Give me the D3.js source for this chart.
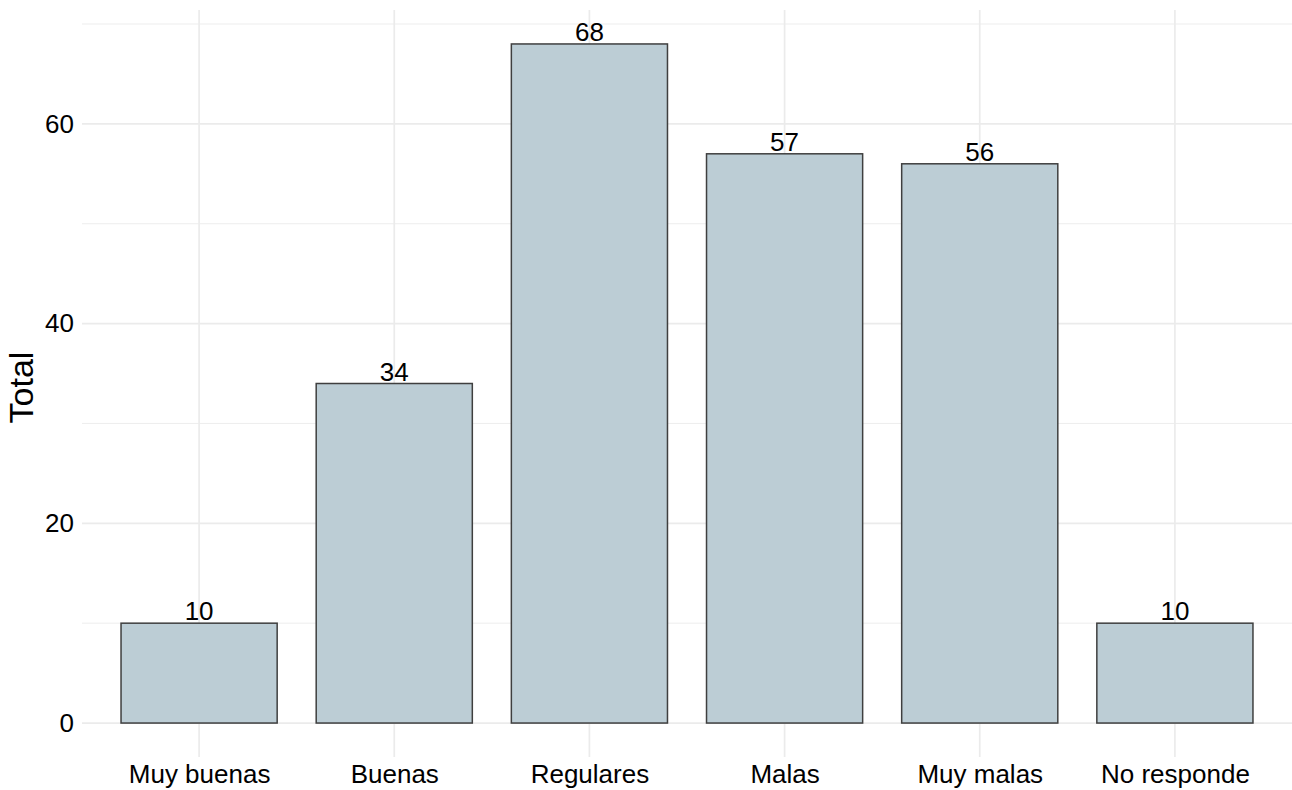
<!DOCTYPE html>
<html><head><meta charset="utf-8">
<script src="https://cdn.jsdelivr.net/npm/d3@7"></script>
<style>body{margin:0;background:#fff}text{font-family:Arial,"Liberation Sans",sans-serif}</style>
</head><body><svg id="c" width="1292" height="790"></svg>
<script>
const categories = ["Muy buenas","Buenas","Regulares","Malas","Muy malas","No responde"];
const values = [10,34,68,57,56,10];
const yTicks = [0,20,40,60];
const yMinor = [10,30,50,70];
const yTitle = "Total";

const svg = d3.select("#c");
const W=1292,H=790;
const m={l:82,r:0,t:10,b:33};
const x=d3.scalePoint().domain(categories).range([m.l,W-m.r]).padding(0.6);
const yMax=d3.max(values);
const y=d3.scaleLinear().domain([-yMax*0.05,yMax*1.05]).range([H-m.b,m.t]);
const bw=x.step()*0.8;

const g=svg.append("g");
g.selectAll(".ymin").data(yMinor).join("line").attr("x1",m.l).attr("x2",W-m.r)
 .attr("y1",d=>y(d)).attr("y2",d=>y(d)).attr("stroke","#ebebeb").attr("stroke-width",0.9);
g.selectAll(".ymaj").data(yTicks).join("line").attr("x1",m.l).attr("x2",W-m.r)
 .attr("y1",d=>y(d)).attr("y2",d=>y(d)).attr("stroke","#ebebeb").attr("stroke-width",1.7);
g.selectAll(".xmaj").data(categories).join("line").attr("x1",d=>x(d)).attr("x2",d=>x(d))
 .attr("y1",m.t).attr("y2",H-m.b).attr("stroke","#ebebeb").attr("stroke-width",1.7);

g.selectAll(".bar").data(values).join("rect")
 .attr("x",(d,i)=>x(categories[i])-bw/2).attr("width",bw)
 .attr("y",d=>y(d)).attr("height",d=>y(0)-y(d))
 .attr("fill","#bccdd5").attr("stroke","#3f3f3f").attr("stroke-width",1.5);

g.selectAll(".lab").data(values).join("text")
 .attr("x",(d,i)=>x(categories[i])).attr("y",d=>y(d)-3)
 .attr("text-anchor","middle").attr("font-size",26).attr("fill","#000").text(d=>d);

const ya=svg.append("g").attr("transform",`translate(${m.l},0)`)
 .call(d3.axisLeft(y).tickValues(yTicks).tickSize(0).tickPadding(8));
ya.select(".domain").remove();
ya.selectAll("text").attr("font-size",26).attr("fill","#000").attr("font-family","Arial, 'Liberation Sans', sans-serif");

const xa=svg.append("g").attr("transform",`translate(0,${H-m.b})`)
 .call(d3.axisBottom(x).tickSize(0).tickPadding(8));
xa.select(".domain").remove();
xa.selectAll("text").attr("font-size",26).attr("fill","#000").attr("font-family","Arial, 'Liberation Sans', sans-serif");

svg.append("text").attr("transform",`translate(33,${(m.t+H-m.b)/2+4}) rotate(-90)`)
 .attr("text-anchor","middle").attr("font-size",34).attr("fill","#000").text(yTitle);
</script></body></html>
